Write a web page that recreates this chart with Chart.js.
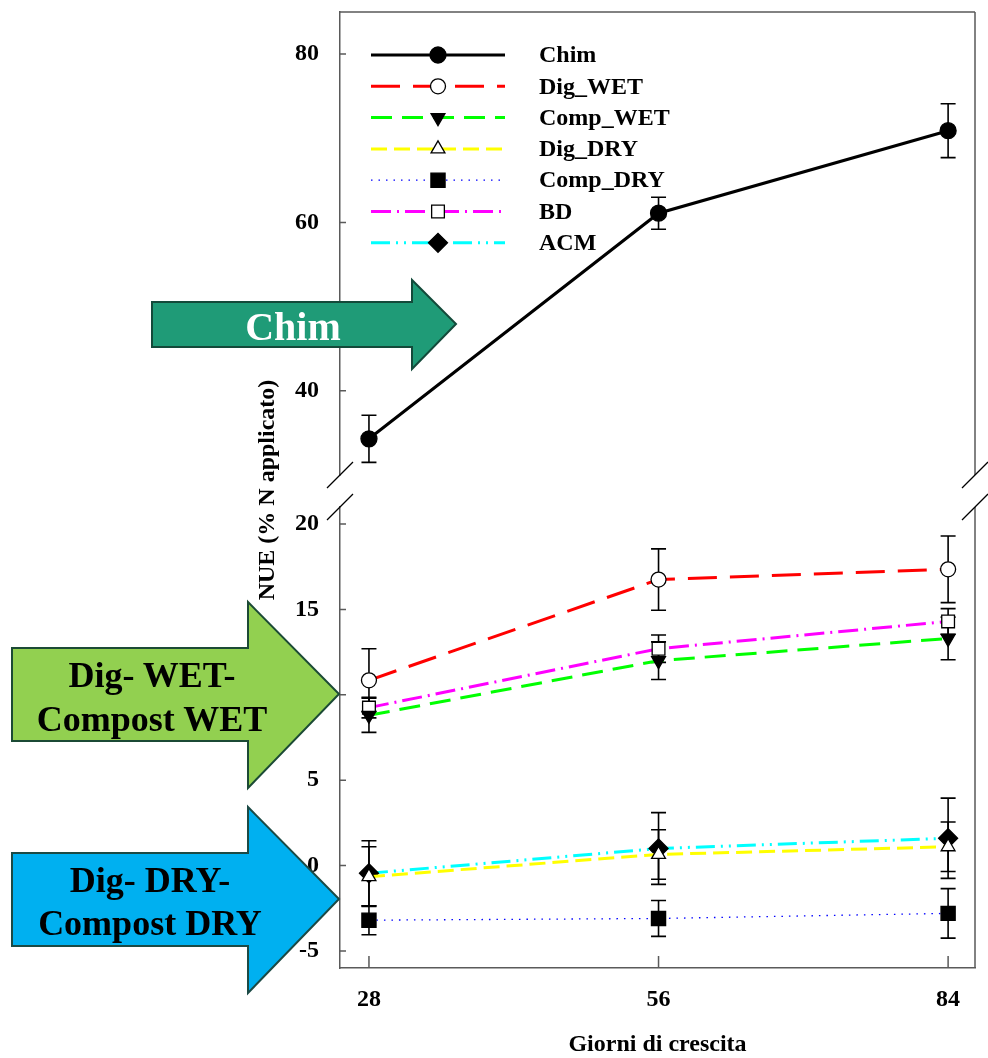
<!DOCTYPE html>
<html>
<head>
<meta charset="utf-8">
<script src="https://cdn.jsdelivr.net/npm/chart.js@4.4.0/dist/chart.umd.min.js"></script>
<style>
body { margin: 0; background: #fff; }
#wrap { position: relative; width: 988px; height: 1058px; }
#arrows { position: absolute; left: 0; top: 0; pointer-events: none; }
#arrows text { font-family: "Liberation Serif", "Times New Roman", serif; font-weight: bold; text-anchor: middle; }
</style>
</head>
<body>
<div id="wrap">
<canvas id="nue-chart" width="988" height="1058"></canvas>
<svg id="arrows" width="988" height="1058">
  <polygon points="152,302 412,302 412,280 456,324 412,369 412,347 152,347" fill="#1f9b77" stroke="#134a3a" stroke-width="2"/>
  <text x="293" y="340" font-size="40" fill="#fff">Chim</text>
  <polygon points="12,648 248,648 248,602 339,694 248,788 248,741 12,741" fill="#92d050" stroke="#1b4a35" stroke-width="2"/>
  <text x="152" y="687" font-size="36" fill="#000">Dig- WET-</text>
  <text x="152" y="731" font-size="36" fill="#000">Compost WET</text>
  <polygon points="12,853 248,853 248,807 339,899 248,993 248,946 12,946" fill="#00b0f0" stroke="#1b4a45" stroke-width="2"/>
  <text x="150" y="892" font-size="36" fill="#000">Dig- DRY-</text>
  <text x="150" y="935" font-size="36" fill="#000">Compost DRY</text>
</svg>
</div>
<script>
// growth days
days = [28, 56, 84];

// NUE (% N applied) and error bars
chim = [34.3, 61.1, 70.9];
chimErr = [2.8, 1.9, 3.2];

digWet = [10.85, 16.75, 17.35];
digWetErr = [1.85, 1.8, 1.95];

compWet = [8.8, 12.0, 13.3];
compWetErr = [1.0, 1.1, 1.25];

digDry = [-0.65, 0.65, 1.1];
digDryErr = [1.75, 1.45, 1.45];

compDry = [-3.2, -3.1, -2.8];
compDryErr = [0.85, 1.05, 1.45];

bd = [9.25, 12.7, 14.3];
bdErr = [0.6, 0.8, 0.75];

acm = [-0.45, 1.0, 1.6];
acmErr = [1.9, 2.1, 2.35];

topTicks = [40, 60, 80];
botTicks = [-5, 0, 5, 10, 15, 20];

const serif = '"Liberation Serif", "Times New Roman", serif';
const axisGrey = '#5a5a5a';

function pts(vals) {
    return days.map(function (d, i) { return {x: d, y: vals[i]}; });
}

function series(label, vals, errs, axis, style) {
    return Object.assign({
        label: label,
        data: pts(vals),
        errors: errs,
        yAxisID: axis,
        fill: false,
        tension: 0,
        pointBorderColor: '#000',
        pointBorderWidth: 1.3,
        pointHoverRadius: 8
    }, style);
}

const dataObj = {
    datasets: [
        series('Chim', chim, chimErr, 'yTop', {
            borderColor: '#000', borderWidth: 3, borderDash: [],
            pointStyle: 'circle', pointRadius: 8, pointBackgroundColor: '#000'
        }),
        series('Dig_WET', digWet, digWetErr, 'yBot', {
            borderColor: '#ff0000', borderWidth: 3, borderDash: [29, 13],
            pointStyle: 'circle', pointRadius: 7.5, pointBackgroundColor: '#fff'
        }),
        series('Comp_WET', compWet, compWetErr, 'yBot', {
            borderColor: '#00ff00', borderWidth: 3, borderDash: [21, 10],
            pointStyle: 'triangle', pointRotation: 180, pointRadius: 8, pointBackgroundColor: '#000'
        }),
        series('Dig_DRY', digDry, digDryErr, 'yBot', {
            borderColor: '#ffff00', borderWidth: 3, borderDash: [16, 7],
            pointStyle: 'triangle', pointRadius: 8, pointBackgroundColor: '#fff'
        }),
        series('Comp_DRY', compDry, compDryErr, 'yBot', {
            borderColor: '#0000ff', borderWidth: 1.3, borderDash: [1.5, 6],
            pointStyle: 'rect', pointRadius: 10, pointBackgroundColor: '#000'
        }),
        series('BD', bd, bdErr, 'yBot', {
            borderColor: '#ff00ff', borderWidth: 3, borderDash: [20, 6, 2, 6],
            pointStyle: 'rect', pointRadius: 9, pointBackgroundColor: '#fff'
        }),
        series('ACM', acm, acmErr, 'yBot', {
            borderColor: '#00ffff', borderWidth: 3, borderDash: [19, 6, 2, 6, 2, 6],
            pointStyle: 'rectRot', pointRadius: 9.5, pointBackgroundColor: '#000'
        })
    ]
};

// error bars, drawn under the markers
const errorBars = {
    id: 'errorBars',
    beforeDatasetsDraw(chart) {
        const ctx = chart.ctx;
        const xs = chart.scales.x;
        ctx.save();
        ctx.strokeStyle = '#000';
        ctx.lineWidth = 1.6;
        chart.data.datasets.forEach(function (ds) {
            const ys = chart.scales[ds.yAxisID];
            ds.data.forEach(function (p, i) {
                const e = ds.errors[i];
                const px = xs.getPixelForValue(p.x);
                const hi = ys.getPixelForValue(p.y + e);
                const lo = ys.getPixelForValue(p.y - e);
                ctx.beginPath();
                ctx.moveTo(px, hi); ctx.lineTo(px, lo);
                ctx.moveTo(px - 7.5, hi); ctx.lineTo(px + 7.5, hi);
                ctx.moveTo(px - 7.5, lo); ctx.lineTo(px + 7.5, lo);
                ctx.stroke();
            });
        });
        ctx.restore();
    }
};

// frame, inward ticks, axis break marks, titles and the line+marker legend
const decorations = {
    id: 'decorations',
    afterDraw(chart) {
        const ctx = chart.ctx;
        const a = chart.chartArea;
        const top = chart.scales.yTop, bot = chart.scales.yBot, xs = chart.scales.x;
        ctx.save();

        ctx.strokeStyle = axisGrey;
        ctx.lineWidth = 1.5;
        ctx.beginPath();
        ctx.moveTo(a.left, a.top); ctx.lineTo(a.right, a.top);
        ctx.moveTo(a.right, a.top); ctx.lineTo(a.right, top.bottom);
        ctx.moveTo(a.right, bot.top); ctx.lineTo(a.right, a.bottom);
        topTicks.forEach(function (v) {
            const y = top.getPixelForValue(v);
            ctx.moveTo(a.left, y); ctx.lineTo(a.left + 6, y);
        });
        botTicks.forEach(function (v) {
            const y = bot.getPixelForValue(v);
            ctx.moveTo(a.left, y); ctx.lineTo(a.left + 6, y);
        });
        days.forEach(function (d) {
            const x = xs.getPixelForValue(d);
            ctx.moveTo(x, a.bottom); ctx.lineTo(x, a.bottom - 12);
        });
        ctx.stroke();

        // break slashes
        ctx.strokeStyle = '#000';
        ctx.lineWidth = 1.3;
        ctx.beginPath();
        [a.left, a.right].forEach(function (x) {
            [top.bottom, bot.top].forEach(function (y) {
                ctx.moveTo(x - 13, y + 13); ctx.lineTo(x + 13, y - 13);
            });
        });
        ctx.stroke();

        // axis titles
        ctx.fillStyle = '#000';
        ctx.font = 'bold 24px ' + serif;
        ctx.textAlign = 'center';
        ctx.textBaseline = 'middle';
        ctx.fillText('Giorni di crescita', (a.left + a.right) / 2, 1045);
        ctx.save();
        ctx.translate(268, (a.top + a.bottom) / 2);
        ctx.rotate(-Math.PI / 2);
        ctx.fillText('NUE (% N applicato)', 0, 0);
        ctx.restore();

        // legend
        const x0 = a.left + 31, x1 = a.left + 165, xm = a.left + 98;
        ctx.font = 'bold 24px ' + serif;
        ctx.textAlign = 'left';
        chart.data.datasets.forEach(function (ds, i) {
            const y = a.top + 43 + i * 31.3;
            ctx.save();
            ctx.strokeStyle = ds.borderColor;
            ctx.lineWidth = ds.borderWidth;
            ctx.setLineDash(ds.borderDash);
            ctx.beginPath();
            ctx.moveTo(x0, y); ctx.lineTo(x1, y);
            ctx.stroke();
            ctx.restore();
            ctx.save();
            ctx.fillStyle = ds.pointBackgroundColor;
            ctx.strokeStyle = '#000';
            ctx.lineWidth = 1.3;
            Chart.helpers.drawPoint(ctx, {
                pointStyle: ds.pointStyle,
                rotation: ds.pointRotation || 0,
                radius: ds.pointRadius,
                borderWidth: 1.3
            }, xm, y);
            ctx.restore();
            ctx.fillStyle = '#000';
            ctx.fillText(ds.label, a.left + 199, y + 1);
        });
        ctx.restore();
    }
};

const tickFont = {family: serif, size: 24, weight: 'bold'};

function fixY(s) {
    s.width = 340;
    s.paddingTop = 0;
    s.paddingBottom = 0;
}

new Chart('nue-chart', {
    type: 'line',
    data: dataObj,
    plugins: [errorBars, decorations],
    options: {
        responsive: false,
        animation: false,
        layout: {padding: {top: 12, right: 13, left: 0, bottom: 0}},
        plugins: {legend: {display: false}, tooltip: {enabled: false}},
        scales: {
            x: {
                type: 'linear',
                min: 25.2,
                max: 86.6,
                afterBuildTicks: function (s) { s.ticks = days.map(function (v) { return {value: v}; }); },
                afterFit: function (s) { s.height = 90; s.paddingLeft = 0; s.paddingRight = 0; },
                grid: {display: false},
                border: {color: axisGrey, width: 1.5},
                ticks: {font: tickFont, color: '#000', padding: 9, maxRotation: 0}
            },
            yBot: {
                type: 'linear',
                position: 'left',
                stack: 'nue',
                stackWeight: 461,
                min: -6,
                max: 21,
                afterBuildTicks: function (s) { s.ticks = botTicks.map(function (v) { return {value: v}; }); },
                afterFit: fixY,
                grid: {display: false},
                border: {color: axisGrey, width: 1.5},
                ticks: {font: tickFont, color: '#000', padding: 13}
            },
            yGap: {
                type: 'linear',
                position: 'left',
                stack: 'nue',
                stackWeight: 32,
                afterFit: fixY,
                grid: {display: false},
                border: {display: false},
                ticks: {display: false}
            },
            yTop: {
                type: 'linear',
                position: 'left',
                stack: 'nue',
                stackWeight: 463,
                min: 30,
                max: 85,
                afterBuildTicks: function (s) { s.ticks = topTicks.map(function (v) { return {value: v}; }); },
                afterFit: fixY,
                grid: {display: false},
                border: {color: axisGrey, width: 1.5},
                ticks: {font: tickFont, color: '#000', padding: 13}
            }
        }
    }
});
</script>
</body>
</html>
